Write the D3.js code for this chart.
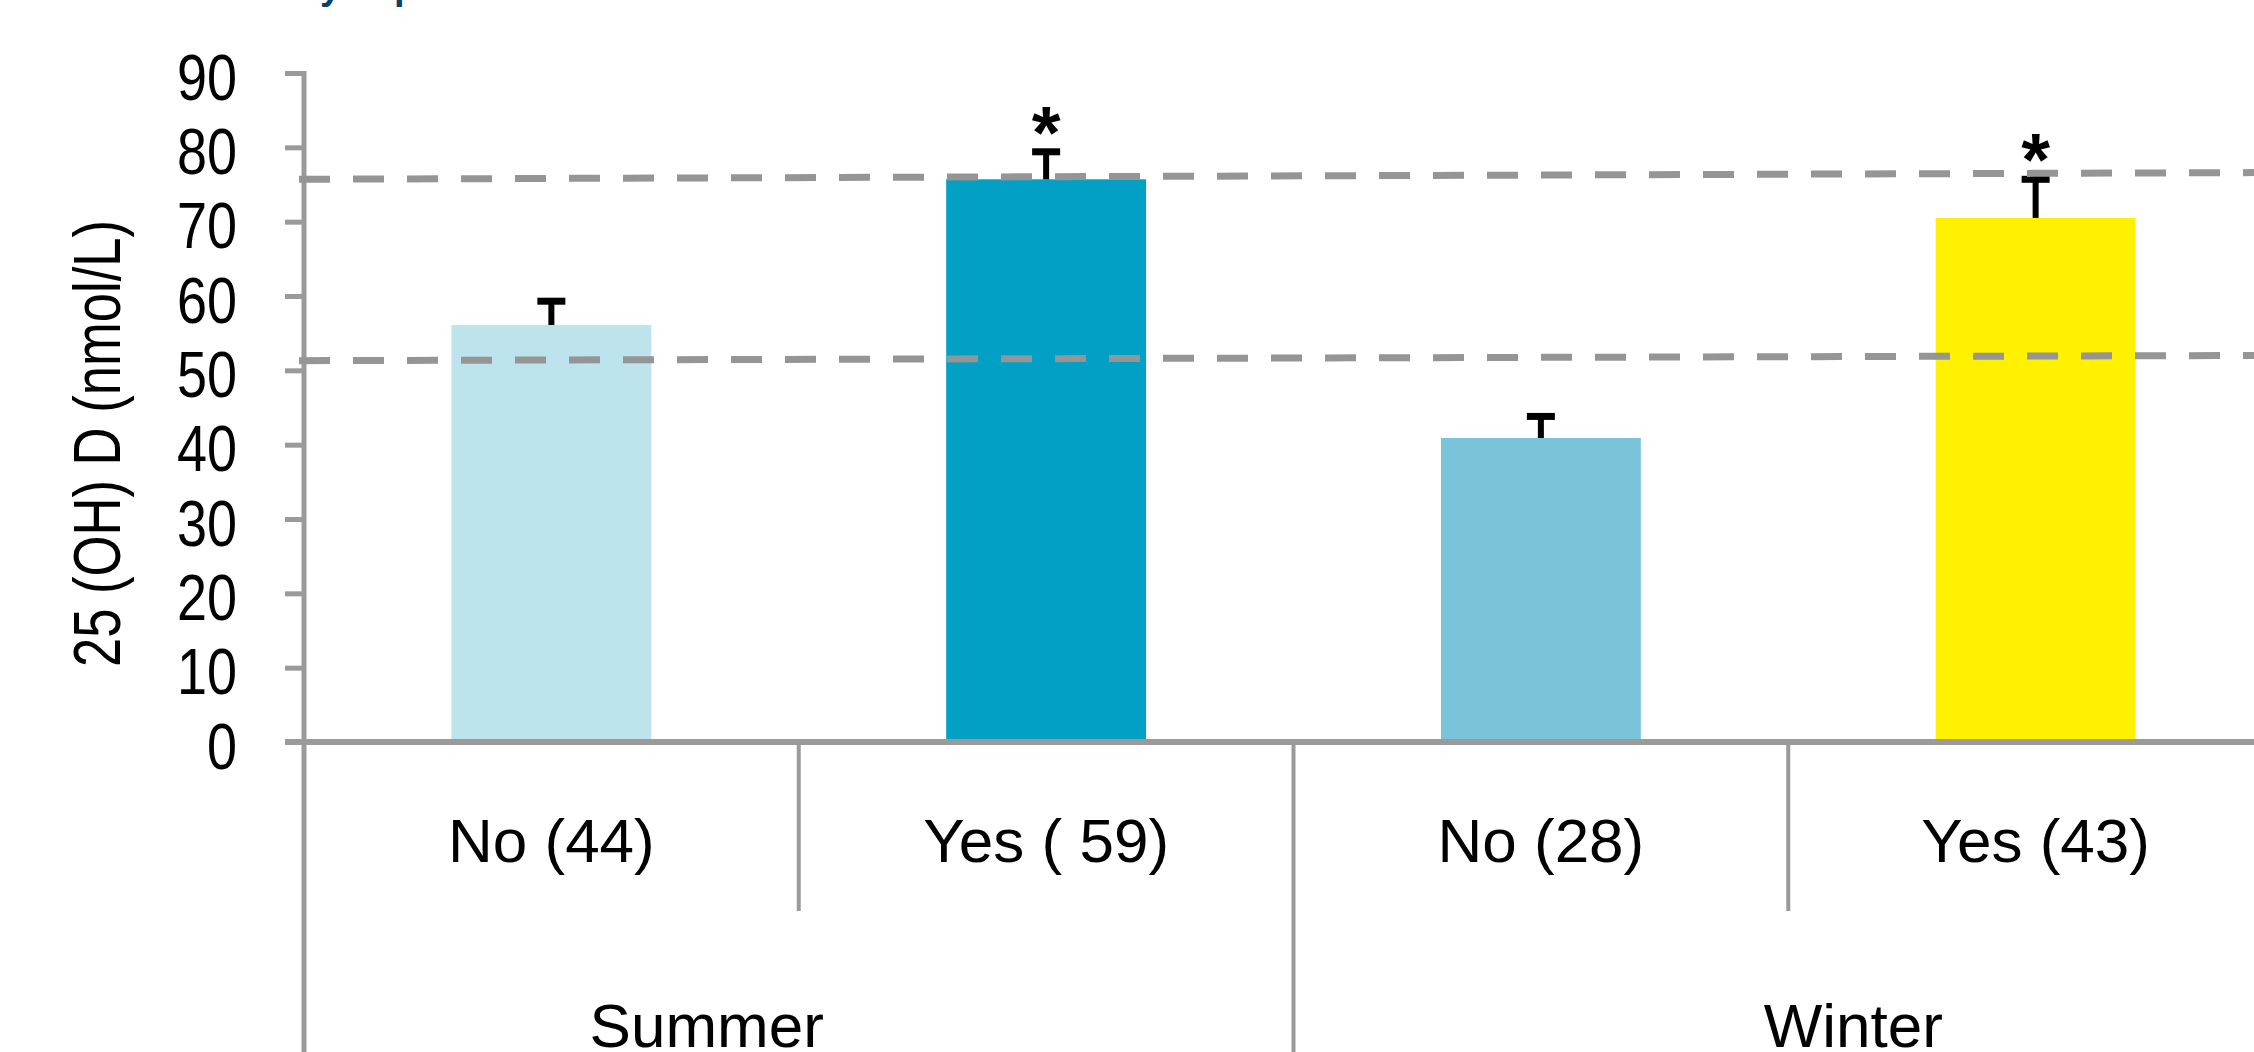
<!DOCTYPE html>
<html>
<head>
<meta charset="utf-8">
<script src="https://cdn.jsdelivr.net/npm/d3@7"></script>
<style>
  body { margin: 0; background: #fff; }
  svg { display: block; }
  text { font-family: "Liberation Sans", Arial, Helvetica, sans-serif; fill: #000; }
</style>
</head>
<body>
<div id="chart"></div>
<script>
// data
const categories = ["No (44)", "Yes ( 59)", "No (28)", "Yes (43)"];
const groups = ["Summer", "Winter"];
const means = [56.1, 75.7, 40.9, 70.5];
const errorTops = [59.3, 79.4, 43.8, 75.7];
const stars = ["", "*", "", "*"];
const barColors = ["#bde4ed", "#02a0c5", "#79c4da", "#fff100"];
const yTicks = [0, 10, 20, 30, 40, 50, 60, 70, 80, 90];
const upperLine = [75.7, 76.6];   // value at left end, right end
const lowerLine = [51.3, 52.0];
const yLabel = "25 (OH) D (nmol/L)";
const title = "Vitamin D status by exposure";

var width = 2254,
  height = 1052;

var axisX = 304,
  baseY = 742,
  topY = 73,
  axisColor = "#9a9a9a";

const y = d3.scaleLinear()
  .domain([0, 90])
  .range([baseY, topY]);

const x = d3.scaleBand()
  .domain(categories)
  .range([axisX, 2283])
  .paddingInner(0.596)
  .paddingOuter(0.298);

// band boundaries with no padding, for the category dividers
const xCell = d3.scaleBand()
  .domain(categories)
  .range([axisX, 2283]);

const xGroup = d3.scaleBand()
  .domain(groups)
  .range([axisX, 2283]);

var svg = d3.select("#chart").append("svg")
  .attr("width", width)
  .attr("height", height);

// title, cut off by the top edge (only descenders show)
var t = svg.append("text")
  .attr("x", 0)
  .attr("y", -1.5)
  .style("font-size", "38px")
  .style("font-weight", "bold")
  .style("fill", "#0b3d6e")
  .text(title);
var before = t.node().getSubStringLength(0, title.indexOf("by") + 1);
t.attr("x", 320 - before);

// y axis
var yAxis = svg.append("g")
  .attr("transform", "translate(" + axisX + ",0)")
  .call(d3.axisLeft(y).tickValues(yTicks).tickSize(19).tickPadding(48));
yAxis.select(".domain").remove();
yAxis.selectAll(".tick line")
  .attr("stroke", axisColor)
  .attr("stroke-width", 5);
yAxis.selectAll(".tick text")
  .attr("x", 0)
  .attr("dy", "0.4em")
  .attr("transform", "translate(-67,0) scale(0.83,1)")
  .style("font-size", "65px")
  .attr("fill", "#000");

svg.append("line")
  .attr("x1", axisX).attr("x2", axisX)
  .attr("y1", y(90) - 2).attr("y2", height)
  .attr("stroke", axisColor)
  .attr("stroke-width", 5);

svg.append("text")
  .attr("transform", "translate(120," + ((y(90) + baseY) / 2 + 36) + ") rotate(-90)")
  .attr("text-anchor", "middle")
  .attr("textLength", 447)
  .attr("lengthAdjust", "spacingAndGlyphs")
  .style("font-size", "66px")
  .text(yLabel);

// bars
svg.append("g").selectAll("rect")
  .data(means)
  .enter().append("rect")
    .attr("x", function(d, i) { return x(categories[i]); })
    .attr("y", function(d) { return y(d); })
    .attr("width", x.bandwidth())
    .attr("height", function(d) { return y(0) - y(d); })
    .attr("fill", function(d, i) { return barColors[i]; });

// error bars (upper half only)
var err = svg.append("g").selectAll("g")
  .data(errorTops)
  .enter().append("g");
err.append("line")
  .attr("x1", function(d, i) { return x(categories[i]) + x.bandwidth() / 2; })
  .attr("x2", function(d, i) { return x(categories[i]) + x.bandwidth() / 2; })
  .attr("y1", function(d, i) { return y(means[i]); })
  .attr("y2", function(d) { return y(d); })
  .attr("stroke", "#000")
  .attr("stroke-width", 6);
err.append("line")
  .attr("x1", function(d, i) { return x(categories[i]) + x.bandwidth() / 2 - 14; })
  .attr("x2", function(d, i) { return x(categories[i]) + x.bandwidth() / 2 + 14; })
  .attr("y1", function(d) { return y(d); })
  .attr("y2", function(d) { return y(d); })
  .attr("stroke", "#000")
  .attr("stroke-width", 7);

// significance stars
svg.append("g").selectAll("text")
  .data(errorTops)
  .enter().append("text")
    .attr("x", function(d, i) { return x(categories[i]) + x.bandwidth() / 2; })
    .attr("y", function(d) { return y(d) + 6; })
    .attr("text-anchor", "middle")
    .style("font-size", "74px")
    .style("font-weight", "bold")
    .text(function(d, i) { return stars[i]; });

// dashed reference lines
var refLine = d3.line()
  .x(function(d, i) { return i === 0 ? axisX - 5 : width; })
  .y(function(d) { return y(d); });

svg.append("g").selectAll("path")
  .data([upperLine, lowerLine])
  .enter().append("path")
    .attr("d", refLine)
    .attr("fill", "none")
    .attr("stroke", "#959595")
    .attr("stroke-width", 7)
    .attr("stroke-dasharray", "31,23");

// x baseline
svg.append("line")
  .attr("x1", axisX - 19).attr("x2", width)
  .attr("y1", baseY).attr("y2", baseY)
  .attr("stroke", axisColor)
  .attr("stroke-width", 6);

// dividers between categories: short inside a group, long between groups
svg.append("g").selectAll("line")
  .data(categories.slice(1))
  .enter().append("line")
    .attr("x1", function(d) { return xCell(d); })
    .attr("x2", function(d) { return xCell(d); })
    .attr("y1", baseY)
    .attr("y2", function(d, i) { return i === 1 ? height : 911; })
    .attr("stroke", axisColor)
    .attr("stroke-width", 4);

// category labels
svg.append("g").selectAll("text")
  .data(categories)
  .enter().append("text")
    .attr("x", function(d) { return x(d) + x.bandwidth() / 2; })
    .attr("y", 862)
    .attr("text-anchor", "middle")
    .style("font-size", "62px")
    .text(function(d) { return d; });

// group labels (set a little off the group centres as in the original)
var groupShift = [-92, 65];
svg.append("g").selectAll("text")
  .data(groups)
  .enter().append("text")
    .attr("x", function(d, i) { return xGroup(d) + xGroup.bandwidth() / 2 + groupShift[i]; })
    .attr("y", 1047)
    .attr("text-anchor", "middle")
    .style("font-size", "62px")
    .text(function(d) { return d; });
</script>
</body>
</html>
